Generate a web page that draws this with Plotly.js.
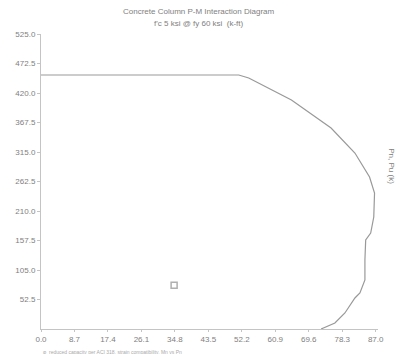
<!DOCTYPE html>
<html>
<head>
<meta charset="utf-8">
<script src="https://cdn.plot.ly/plotly-3.0.1.min.js"></script>
<style>
  html, body { margin: 0; padding: 0; background: #fff; }
  #chart { width: 409px; height: 354px; }
</style>
</head>
<body>
<div id="chart"></div>
<script>
// Interaction curve: moment (k-ft) vs axial load (k)
const momentCurve = [0, 51.4, 54.0, 65.1, 75.4, 81.6, 85.4, 86.7, 86.5, 85.7, 84.4, 84.2, 84.2, 82.9, 81.6, 79.0, 76.4, 72.8];
const axialCurve  = [452, 452, 446.7, 407.5, 357.7, 313.2, 270.5, 242.0, 199.3, 170.8, 158.4, 122.8, 87.2, 64.1, 55.2, 28.5, 10.7, 0];

// Factored load point
const demandM = [34.6];
const demandP = [78];

const xTicks = [0, 8.7, 17.4, 26.1, 34.8, 43.5, 52.2, 60.9, 69.6, 78.3, 87.0];
const yTicks = [52.5, 105.0, 157.5, 210.0, 262.5, 315.0, 367.5, 420.0, 472.5, 525.0];

const grey = '#999';
const textGrey = '#808080';

const traces = [
  {
    x: momentCurve, y: axialCurve,
    type: 'scatter', mode: 'lines',
    line: { color: grey, width: 1.2 },
    hoverinfo: 'skip', showlegend: false
  },
  {
    x: demandM, y: demandP,
    type: 'scatter', mode: 'markers',
    marker: { symbol: 'square-open', size: 6, color: '#b0b0b0', line: { width: 1.5, color: '#b0b0b0' } },
    hoverinfo: 'skip', showlegend: false
  }
];

const layout = {
  width: 409, height: 354,
  margin: { l: 41, r: 31, t: 34, b: 25 },
  paper_bgcolor: '#fff', plot_bgcolor: '#fff',
  font: { family: 'Liberation Sans, Arial, sans-serif', size: 8, color: textGrey },
  xaxis: {
    range: [0, 87.6], tickvals: xTicks,
    ticktext: xTicks.map(v => v.toFixed(1)),
    showgrid: false, zeroline: false,
    showline: true, linecolor: '#c4c4c4', linewidth: 1,
    ticks: 'outside', ticklen: 2, tickcolor: '#c4c4c4',
    tickfont: { size: 8, color: textGrey }
  },
  yaxis: {
    range: [0, 525], tickvals: yTicks,
    ticktext: yTicks.map(v => v.toFixed(1)),
    showgrid: false, zeroline: false,
    showline: true, linecolor: '#c4c4c4', linewidth: 1,
    ticks: 'outside', ticklen: 3, tickcolor: '#c4c4c4',
    tickfont: { size: 8, color: textGrey }
  },
  annotations: [
    { text: 'Concrete Column P-M Interaction Diagram', xref: 'paper', yref: 'paper',
      x: 0.47, y: 1.075, xanchor: 'center', yanchor: 'middle', showarrow: false,
      font: { size: 8, color: textGrey } },
    { text: "f'c 5 ksi @ fy 60 ksi  (k-ft)", xref: 'paper', yref: 'paper',
      x: 0.47, y: 1.034, xanchor: 'center', yanchor: 'middle', showarrow: false,
      font: { size: 8, color: textGrey } },
    { text: 'Pn, Pu (k)', xref: 'paper', yref: 'paper',
      x: 1.04, y: 0.55, xanchor: 'center', yanchor: 'middle', showarrow: false,
      textangle: 90, font: { size: 8, color: textGrey } },
    { text: 'φ  reduced capacity per ACI 318, strain compatibility, Mn vs Pn', xref: 'paper', yref: 'paper',
      x: 0.0, y: -0.062, xanchor: 'left', yanchor: 'top', showarrow: false,
      font: { size: 5, color: '#aaa' } }
  ]
};

Plotly.newPlot('chart', traces, layout, { staticPlot: true, displayModeBar: false });
</script>
</body>
</html>
